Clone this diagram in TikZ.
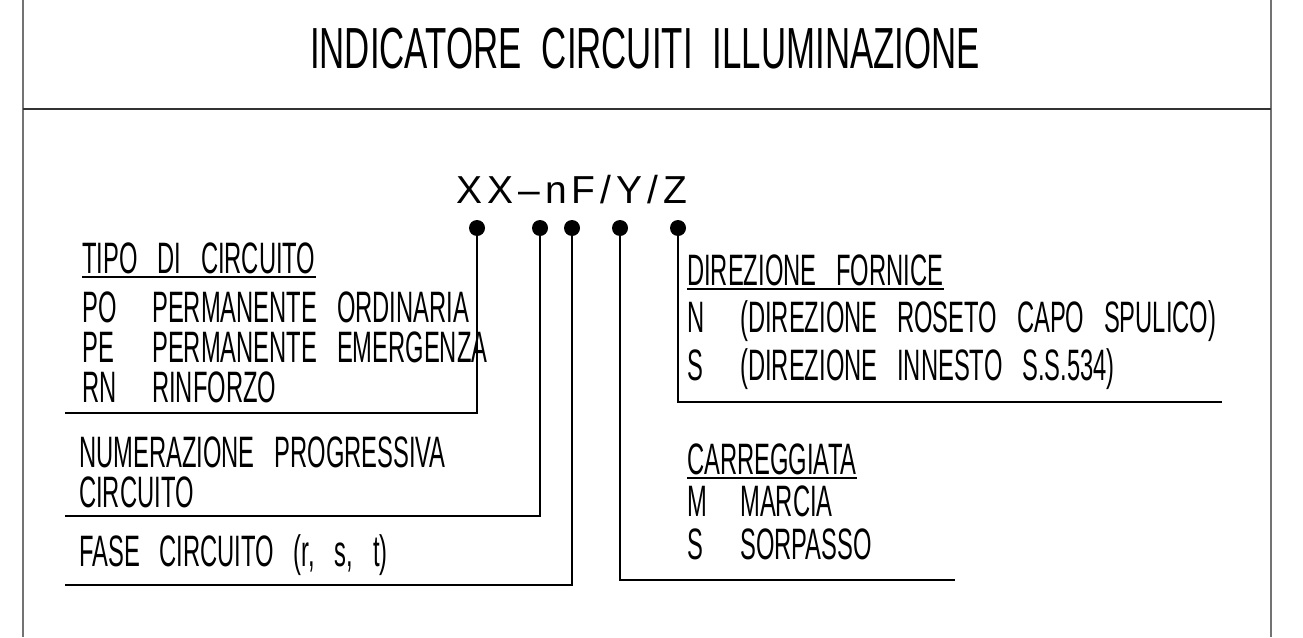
\documentclass[tikz,border=0pt]{standalone}
\usepackage{fontspec}
\setmainfont[FakeStretch=0.54,WordSpace=3]{Liberation Sans}
\newfontfamily\titlefont[FakeStretch=0.6,WordSpace=2.1]{Liberation Sans}
\newfontfamily\codefont[LetterSpace=13]{Liberation Sans}
\begin{document}
\begin{tikzpicture}[x=1pt,y=-1pt,
  txt/.style={anchor=base west,inner sep=0pt,font=\fontsize{44}{44}\selectfont},
  dot/.style={circle,fill=black,minimum size=16pt,inner sep=0pt},
  wire/.style={line width=1.8pt,line join=miter},
  uline/.style={line width=1.8pt},
  frame/.style={line width=1.6pt,draw=black!55},
  divider/.style={line width=2.6pt,draw=black!80}]
\useasboundingbox (0,0) rectangle (1303,637);
\fill[white] (0,0) rectangle (1303,637);
% frame
\coordinate (ftl) at (23,0); \coordinate (fbl) at (23,637);
\coordinate (ftr) at (1271,0); \coordinate (fbr) at (1271,637);
\coordinate (dl) at (23,109); \coordinate (dr) at (1271,109);
\draw[frame] (ftl) -- (fbl);
\draw[frame] (ftr) -- (fbr);
\draw[divider] (dl) -- (dr);
% title
\node[anchor=base,inner sep=0pt,font=\titlefont\fontsize{58}{58}\selectfont] (title) at (645,68) {INDICATORE CIRCUITI ILLUMINAZIONE};
% code
\node[anchor=base west,inner sep=0pt,font=\codefont\fontsize{39}{39}\selectfont] (code) at (456,203) {XX–nF/Y/Z};
% dots
\node[dot] (d1) at (477,228) {};
\node[dot] (d2) at (540,228) {};
\node[dot] (d3) at (572,228) {};
\node[dot] (d4) at (620,228) {};
\node[dot] (d5) at (678,228) {};
% line ends
\coordinate (e1) at (65,413);
\coordinate (e2) at (65,516);
\coordinate (e3) at (65,585);
\coordinate (e4) at (955,580);
\coordinate (e5) at (1222,402);
\draw[wire] (d1.center) |- (e1);
\draw[wire] (d2.center) |- (e2);
\draw[wire] (d3.center) |- (e3);
\draw[wire] (d4.center) |- (e4);
\draw[wire] (d5.center) |- (e5);
% left block
\node[txt] (tipo) at (82,273) {TIPO DI CIRCUITO};
\draw[uline] ([yshift=-4pt]tipo.base west) -- ([yshift=-4pt]tipo.base east);
\node[txt] (po) at (82,322) {PO};
\node[txt] (pod) at (152,322) {PERMANENTE ORDINARIA};
\node[txt] (pe) at (82,362) {PE};
\node[txt] (ped) at (152,362) {PERMANENTE EMERGENZA};
\node[txt] (rn) at (82,402) {RN};
\node[txt] (rnd) at (152,402) {RINFORZO};
\node[txt] (num) at (79,467) {NUMERAZIONE PROGRESSIVA};
\node[txt] (num2) at (79,507) {CIRCUITO};
\node[txt] (fase) at (79,566) {FASE CIRCUITO (r, s, t)};
% right block
\node[txt] (dir) at (687,285) {DIREZIONE FORNICE};
\draw[uline] ([yshift=-4pt]dir.base west) -- ([yshift=-4pt]dir.base east);
\node[txt] (n) at (687,332) {N};
\node[txt] (nd) at (740,332) {(DIREZIONE ROSETO CAPO SPULICO)};
\node[txt] (s) at (687,380) {S};
\node[txt] (sd) at (740,380) {(DIREZIONE INNESTO S.S.534)};
\node[txt] (car) at (687,474) {CARREGGIATA};
\draw[uline] ([yshift=-4pt]car.base west) -- ([yshift=-4pt]car.base east);
\node[txt] (m) at (687,516) {M};
\node[txt] (md) at (740,516) {MARCIA};
\node[txt] (s2) at (687,559) {S};
\node[txt] (s2d) at (740,559) {SORPASSO};
\end{tikzpicture}
\end{document}
